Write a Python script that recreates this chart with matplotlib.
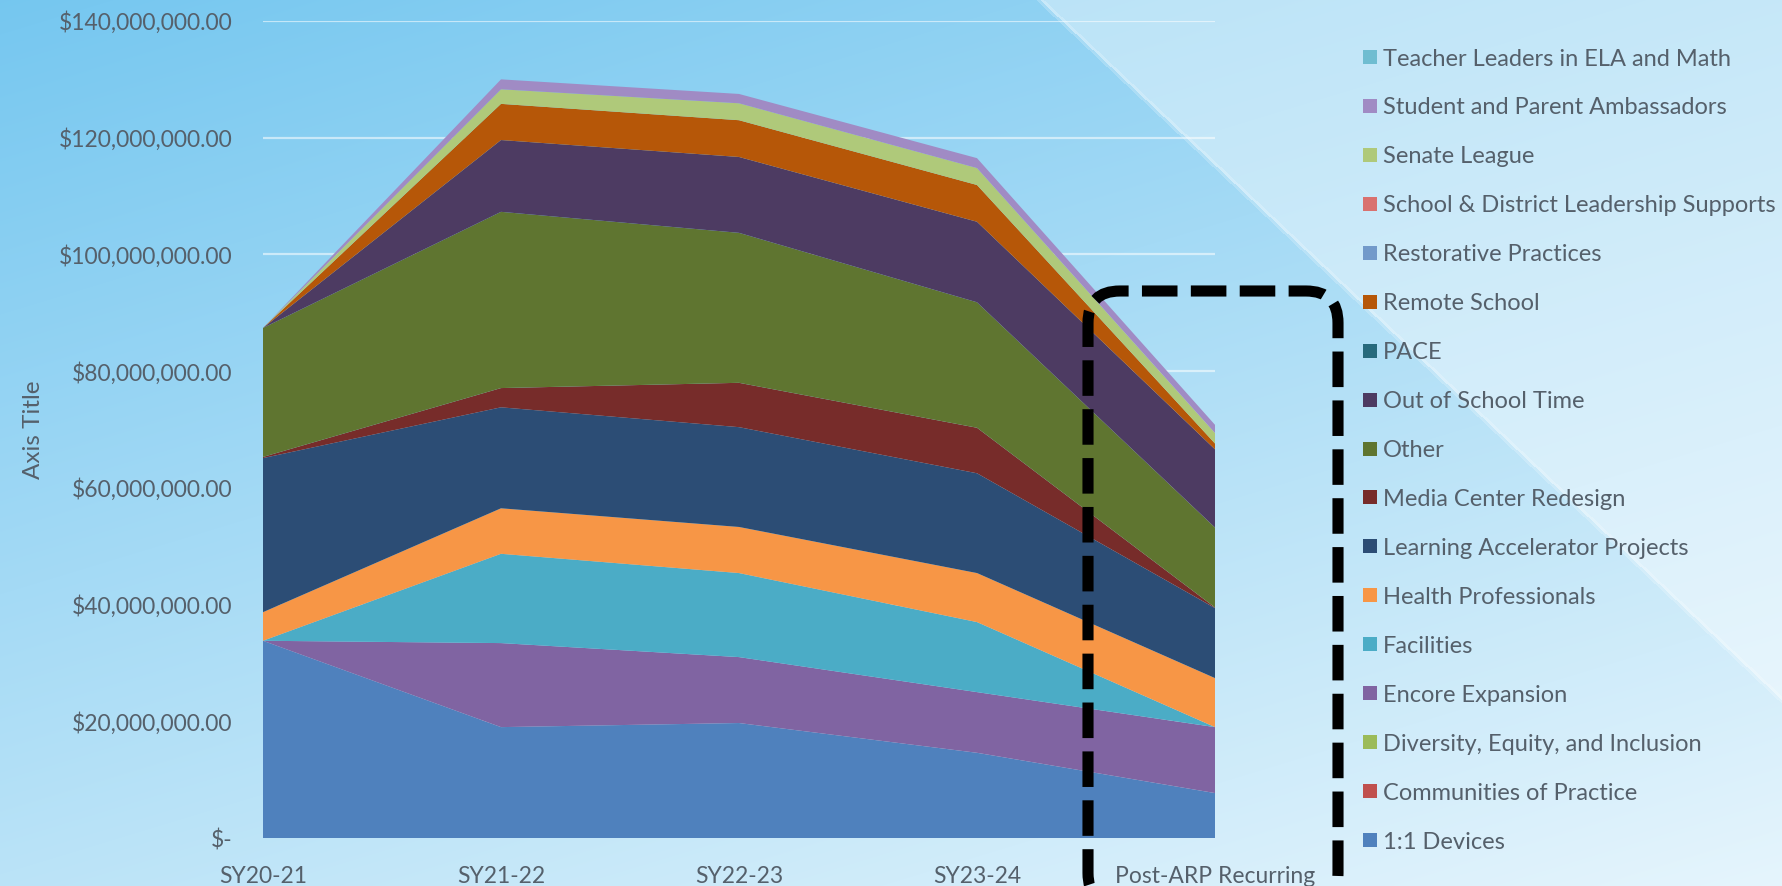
import numpy as np
import matplotlib.pyplot as plt
import matplotlib.transforms as mtransforms
from matplotlib.patches import Rectangle, FancyBboxPatch
from matplotlib.ticker import FuncFormatter, MultipleLocator

plt.rcParams['font.family'] = ['Lato', 'DejaVu Sans']

years = ["SY20-21", "SY21-22", "SY22-23", "SY23-24", "Post-ARP Recurring"]

# spending per program in $ millions (stack order, bottom first)
devices = [33.8, 19.0, 19.7, 14.6, 7.7]
communities = [0, 0, 0, 0, 0]
dei = [0, 0, 0, 0, 0]
encore = [0.0, 14.4, 11.3, 10.4, 11.3]
facilities = [0.0, 15.3, 14.4, 12.0, 0.0]
health = [4.9, 7.8, 7.9, 8.4, 8.4]
accelerator = [26.4, 17.3, 17.1, 17.1, 12.0]
media = [0.2, 3.3, 7.6, 7.8, 0.1]
other = [22.1, 30.2, 25.7, 21.5, 13.7]
out_of_school = [0.0, 12.3, 13.0, 13.8, 13.4]
pace = [0, 0, 0, 0, 0]
remote = [0.0, 6.2, 6.3, 6.3, 1.0]
restorative = [0, 0, 0, 0, 0]
leadership = [0, 0, 0, 0, 0]
senate = [0.0, 2.5, 2.9, 2.9, 1.8]
ambassadors = [0.0, 1.7, 1.6, 1.7, 1.4]
teacher_leaders = [0, 0, 0, 0, 0]

names = ["1:1 Devices", "Communities of Practice", "Diversity, Equity, and Inclusion",
         "Encore Expansion", "Facilities", "Health Professionals",
         "Learning Accelerator Projects", "Media Center Redesign", "Other",
         "Out of School Time", "PACE", "Remote School", "Restorative Practices",
         "School & District Leadership Supports", "Senate League",
         "Student and Parent Ambassadors", "Teacher Leaders in ELA and Math"]
series = [devices, communities, dei, encore, facilities, health, accelerator, media,
          other, out_of_school, pace, remote, restorative, leadership, senate,
          ambassadors, teacher_leaders]
colors = ["#4f81bd", "#c0504d", "#9bbb59", "#8064a2", "#4bacc6", "#f79646",
          "#2c4d75", "#772c2a", "#5f7530", "#4d3b62", "#276a7c", "#b65708",
          "#729aca", "#d9716f", "#afc97a", "#a08bc4", "#6fbdd1"]

W, H = 1783, 886
txt = "#55606b"
fig = plt.figure(figsize=(W / 100, H / 100), dpi=100)

# background gradient + lighter diagonal panel
xx, yy = np.meshgrid(np.linspace(0, 1, W), np.linspace(0, 1, H))
t = np.clip(0.62 * yy + 0.38 * xx, 0, 1)[..., None]
c0 = np.array([0.46, 0.78, 0.94])
c1 = np.array([0.90, 0.96, 0.99])
bg = c0 * (1 - t) + c1 * t
px, py = np.meshgrid(np.arange(W), np.arange(H))
diag = px - (1040 + py * 1.06)
panel = (diag > 0)[..., None]
bg = np.where(panel, bg * 0.6 + 0.4, bg)
edge = (np.abs(diag) < 4)[..., None]
bg = np.where(edge, bg * 0.8 + 0.2, bg)
fig.figimage(np.clip(bg, 0, 1), 0, 0, zorder=-10)

ax = fig.add_axes([263 / W, 48 / H, (1215 - 263) / W, (838 - 21) / H])
ax.patch.set_visible(False)
x = np.arange(len(years))
vals = [np.array(s) * 1e6 for s in series]
ax.stackplot(x, *vals, colors=colors, linewidth=0)

ax.set_xlim(0, len(years) - 1)
ax.set_ylim(0, 140e6)
ax.yaxis.set_major_locator(MultipleLocator(20e6))
ax.yaxis.set_major_formatter(FuncFormatter(lambda v, p: "$-" if v == 0 else f"${v:,.2f}"))
ax.set_xticks(x)
ax.set_xticklabels(years)
ax.tick_params(length=0, labelsize=16.5, labelcolor=txt)
ax.tick_params(axis="y", pad=22)
ax.tick_params(axis="x", pad=20)
for s in ax.spines.values():
    s.set_visible(False)
ax.set_axisbelow(True)
ax.yaxis.grid(True, color="white", alpha=0.55, lw=1.6)

fig.text(34 / W, 1 - 430 / H, "Axis Title", rotation=90, ha="center", va="center",
         fontsize=17.5, color=txt)

# legend, reversed order like the original
for i, (name, col) in enumerate(zip(names[::-1], colors[::-1])):
    yc = 57 + i * 48.94
    fig.add_artist(Rectangle((1363 / W, 1 - (yc + 7) / H), 14 / W, 14 / H,
                             transform=fig.transFigure, facecolor=col, edgecolor="none"))
    fig.text(1383 / W, 1 - yc / H, name, ha="left", va="center_baseline",
             fontsize=17, color=txt)

# dashed highlight box around the post-ARP column
box = FancyBboxPatch((1088, H - 905), 1338 - 1088, 905 - 291,
                     boxstyle="round,pad=0,rounding_size=32",
                     transform=mtransforms.IdentityTransform(),
                     facecolor="none", edgecolor="black", lw=8,
                     linestyle=(0, (3.2, 1.2)), zorder=10)
fig.add_artist(box)

fig.savefig("out.png", dpi=100)
